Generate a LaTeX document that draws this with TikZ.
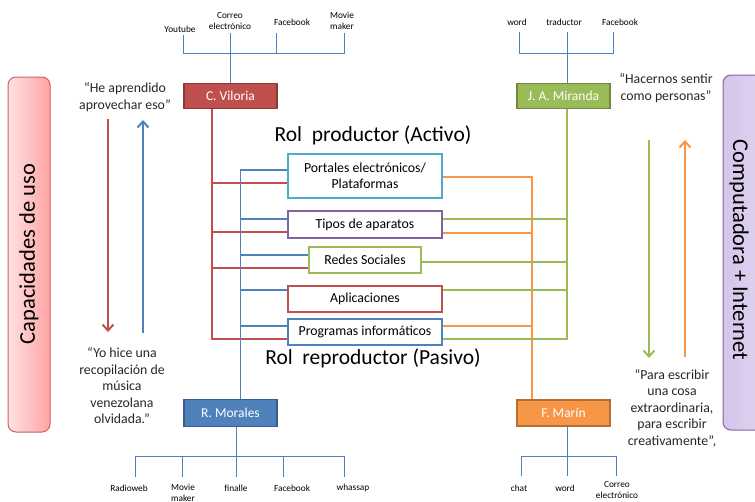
\documentclass[tikz,border=0pt]{standalone}
\usepackage{fontspec}
\setmainfont{Carlito}
\usetikzlibrary{arrows.meta,calc}
\definecolor{cred}{HTML}{C0504D}
\definecolor{credd}{HTML}{8C3836}
\definecolor{cgreen}{HTML}{9BBB59}
\definecolor{cgreend}{HTML}{71893F}
\definecolor{cblue}{HTML}{4F81BD}
\definecolor{cblued}{HTML}{385D8A}
\definecolor{corange}{HTML}{F79646}
\definecolor{coranged}{HTML}{B66D31}
\definecolor{cteal}{HTML}{4BACC6}
\definecolor{cpurple}{HTML}{8064A2}
\definecolor{pinkL}{HTML}{FFE2E2}
\definecolor{pinkR}{HTML}{FFA3A3}
\definecolor{pinkB}{HTML}{D0605D}
\definecolor{lavL}{HTML}{D4C5EA}
\definecolor{lavR}{HTML}{E4DAF2}
\begin{document}
\begin{tikzpicture}[x=1pt,y=-1pt,
  person/.style={draw, line width=1.8pt, minimum width=93pt, minimum height=25pt, inner sep=0pt, text=white, font=\fontsize{13.5}{15}\selectfont},
  cbox/.style={draw, line width=1.6pt, fill=white, minimum width=154pt, minimum height=26pt, inner sep=0pt, font=\fontsize{13.8}{16}\selectfont, align=center},
  tlab/.style={font=\fontsize{9.3}{11.5}\selectfont, align=center, inner sep=0pt},
  quote/.style={font=\fontsize{13.8}{16.5}\selectfont, align=center, inner sep=0pt, text=black!85},
  title/.style={font=\fontsize{21.5}{24}\selectfont, inner sep=0pt},
  conn/.style={line width=1.8pt},
  tree/.style={draw=cblue, line width=0.8pt},
  bigarrow/.style={line width=2pt, -{Straight Barb[length=6pt,width=11pt]}},
  sidebox/.style={draw, line width=1pt, rounded corners=8pt, minimum width=42pt, minimum height=355pt, inner sep=0pt},
  sidetext/.style={font=\fontsize{22.5}{25}\selectfont, inner sep=0pt}
]
\clip (0,0) rectangle (755,501);

% side boxes
\node[sidebox, draw=pinkB, left color=pinkL, right color=pinkR] (cap) at (29,254.5) {};
\node[sidetext, rotate=90] (captext) at (29,254) {Capacidades de uso};
\node[sidebox, draw=cpurple, left color=lavL, right color=lavR, minimum width=60pt] (comp) at (753,252.5) {};
\node[sidetext, rotate=-90] (comptext) at (739,250) {Computadora + Internet};

% persons
\node[person, fill=cred, draw=credd] (cv) at (230.5,96) {C. Viloria};
\node[person, fill=cgreen, draw=cgreend] (jm) at (563.5,96) {J. A. Miranda};
\node[person, fill=cblue, draw=cblued, minimum height=27pt] (rm) at (230.5,413) {R. Morales};
\node[person, fill=corange, draw=coranged, minimum height=26pt] (fm) at (563.5,413) {F. Marín};

% titles
\node[title] (t1) at (373,135) {Rol\ \ productor (Activo)};
\node[title] (t2) at (373,358) {Rol\ \ reproductor (Pasivo)};

% trunk coordinates
\coordinate (rx) at (212,0);
\coordinate (bx) at (240.5,0);
\coordinate (ox) at (532,0);
\coordinate (gx) at (567,0);

% central boxes (nodes)
\node[cbox, draw=cteal, minimum height=44pt] (por) at (365,176) {Portales electrónicos/\\Plataformas};
\node[cbox, draw=cpurple, minimum height=27pt] (tip) at (365,224.5) {Tipos de aparatos};
\node[cbox, draw=cgreen, minimum width=112pt] (red) at (365,260) {Redes Sociales};
\node[cbox, draw=cred] (apl) at (365,299) {Aplicaciones};
\node[cbox, draw=cblue] (pro) at (365,332) {Programas informáticos};

% red connectors (C. Viloria)
\begin{scope}[conn, cred]
\draw (cv.south -| rx) |- ($(por.west)+(0,7)$);
\draw (cv.south -| rx) |- ($(tip.west)+(0,7.5)$);
\draw (cv.south -| rx) |- ($(red.west)+(0,8)$);
\draw (cv.south -| rx) |- ($(pro.west)+(0,7)$);
\end{scope}
% blue connectors (R. Morales)
\begin{scope}[conn, cblue]
\draw (rm.north -| bx) |- ($(por.west)+(0,-6)$);
\draw (rm.north -| bx) |- ($(tip.west)+(0,-5.5)$);
\draw (rm.north -| bx) |- ($(red.west)+(0,-5)$);
\draw (rm.north -| bx) |- ($(apl.west)+(0,-9)$);
\draw (rm.north -| bx) |- ($(pro.west)+(0,-6)$);
\end{scope}
% orange connectors (F. Marin)
\begin{scope}[conn, corange]
\draw (fm.north -| ox) |- ($(por.east)+(0,1)$);
\draw (fm.north -| ox) |- ($(tip.east)+(0,8.5)$);
\draw (fm.north -| ox) |- ($(pro.east)+(0,-6)$);
\end{scope}
% green connectors (J. A. Miranda)
\begin{scope}[conn, cgreen]
\draw (jm.south -| gx) |- ($(tip.east)+(0,-5.5)$);
\draw (jm.south -| gx) |- ($(red.east)+(0,2)$);
\draw (jm.south -| gx) |- ($(apl.east)+(0,-9)$);
\draw (jm.south -| gx) |- ($(pro.east)+(0,7)$);
\end{scope}

% redraw boxes on top
\node[cbox, draw=cteal, minimum height=44pt] at (por) {Portales electrónicos/\\Plataformas};
\node[cbox, draw=cpurple, minimum height=27pt] at (tip) {Tipos de aparatos};
\node[cbox, draw=cgreen, minimum width=112pt] at (red) {Redes Sociales};
\node[cbox, draw=cred] at (apl) {Aplicaciones};
\node[cbox, draw=cblue] at (pro) {Programas informáticos};

% top-left tree
\node[tlab] (l1) at (180,29) {Youtube};
\node[tlab] (l2) at (230,21) {Correo\\electrónico};
\node[tlab] (l3) at (292,22) {Facebook};
\node[tlab] (l4) at (342,21) {Movie\\maker};
\coordinate (a1) at (183,35);
\coordinate (a2) at (230,33);
\coordinate (a3) at (276,33);
\coordinate (a4) at (344,33);
\coordinate (ah) at (0,53);
\draw[tree] (a1) -- (a1|-ah) -- (a4|-ah) -- (a4);
\draw[tree] (a2) -- (cv.north -| a2);
\draw[tree] (a3) -- (a3|-ah);

% top-right tree
\node[tlab] (m1) at (517,22) {word};
\node[tlab] (m2) at (564,22) {traductor};
\node[tlab] (m3) at (620,22) {Facebook};
\coordinate (b1) at (519,32);
\coordinate (b2) at (567,32);
\coordinate (b3) at (613,32);
\draw[tree] (b1) -- (b1|-ah) -- (b3|-ah) -- (b3);
\draw[tree] (b2) -- (jm.north -| b2);

% bottom-left tree
\node[tlab] (n1) at (129,488) {Radioweb};
\node[tlab] (n2) at (183,493) {Movie\\maker};
\node[tlab] (n3) at (236,488) {finalle};
\node[tlab] (n4) at (292,488) {Facebook};
\node[tlab] (n5) at (353,488) {whassap};
\coordinate (c1) at (135,477);
\coordinate (c2) at (182,477);
\coordinate (c3) at (236,477);
\coordinate (c4) at (283,477);
\coordinate (c5) at (344,477);
\coordinate (ch) at (0,456);
\draw[tree] (c1) -- (c1|-ch) -- (c5|-ch) -- (c5);
\draw[tree] (rm.south -| c3) -- (c3);
\draw[tree] (c2) -- (c2|-ch);
\draw[tree] (c4) -- (c4|-ch);

% bottom-right tree
\node[tlab] (o1) at (519,488) {chat};
\node[tlab] (o2) at (565,488) {word};
\node[tlab] (o3) at (617,490) {Correo\\electrónico};
\coordinate (d1) at (521,476);
\coordinate (d2) at (567,476);
\coordinate (d3) at (616,476);
\draw[tree] (d1) -- (d1|-ch) -- (d3|-ch) -- (d3);
\draw[tree] (fm.south -| d2) -- (d2);

% quotes
\node[quote] (q1) at (125,97) {“He aprendido\\aprovechar eso”};
\node[quote] (q2) at (122,386) {“Yo hice una\\recopilación de\\música\\venezolana\\olvidada.”};
\node[quote] (q3) at (666,88) {“Hacernos sentir\\como personas”};
\node[quote] (q4) at (672,408) {“Para escribir\\una cosa\\extraordinaria,\\para escribir\\creativamente”,};

% vertical arrows
\coordinate (ra1) at (108,119);
\coordinate (ra2) at (108,332);
\coordinate (ba1) at (143,333);
\coordinate (ba2) at (143,120);
\coordinate (ga1) at (649,140);
\coordinate (ga2) at (649,358);
\coordinate (oa1) at (685,357);
\coordinate (oa2) at (685,140);
\draw[bigarrow, cred] (ra1) -- (ra2);
\draw[bigarrow, cblue] (ba1) -- (ba2);
\draw[bigarrow, cgreen] (ga1) -- (ga2);
\draw[bigarrow, corange] (oa1) -- (oa2);
\end{tikzpicture}
\end{document}
